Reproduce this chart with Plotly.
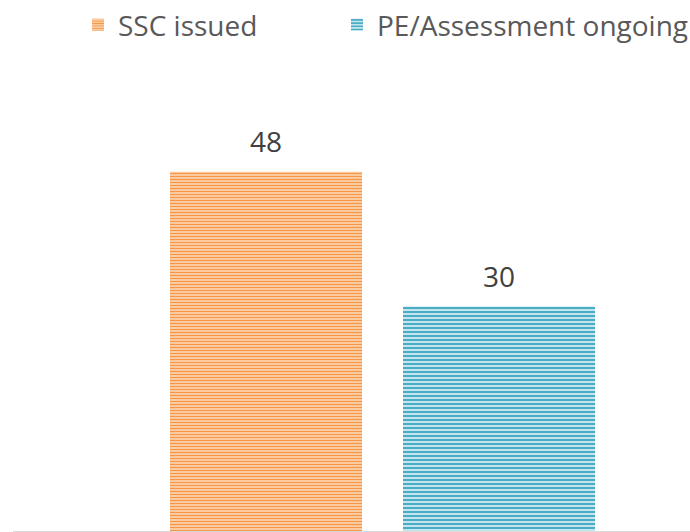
import plotly.graph_objects as go

series_names = ["SSC issued", "PE/Assessment ongoing"]
values = [48, 30]
fg_colors = ["#f79646", "#4bacc6"]
bg_colors = ["#fddcbd", "#c5e5ee"]
stripe_sizes = [3, 4]
legend_ids = ["legend", "legend2"]

fig = go.Figure()
for name, v, fg, bg, sz, lg in zip(series_names, values, fg_colors, bg_colors, stripe_sizes, legend_ids):
    fig.add_trace(go.Bar(
        name=name, x=[name], y=[v], legend=lg,
        marker=dict(color=bg, line=dict(width=0),
                    pattern=dict(shape="-", fgcolor=fg, bgcolor=bg, size=sz, solidity=0.5, fillmode="replace")),
        cliponaxis=False,
    ))
    fig.add_annotation(x=name, y=v, text=str(v), showarrow=False, yanchor="bottom", yshift=10,
                       font=dict(family="Open Sans", size=28, color="#404040"))

legend_common = dict(orientation="h", xref="container", yref="container", xanchor="left",
                     y=0.953, yanchor="middle", font=dict(size=28, color="#595959"),
                     itemwidth=30, bgcolor="rgba(0,0,0,0)")

fig.update_layout(
    width=690, height=532,
    margin=dict(l=13, r=0, t=82, b=1, autoexpand=False),
    paper_bgcolor="white", plot_bgcolor="white",
    barmode="overlay", bargap=0.176,
    font=dict(family="Open Sans", color="#595959", size=28),
    showlegend=True,
    legend=dict(x=78 / 690, **legend_common),
    legend2=dict(x=337 / 690, **legend_common),
    xaxis=dict(range=[-1.0858, 1.8197], showline=True, linecolor="#d9d9d9", linewidth=1,
               showticklabels=False, ticks="", showgrid=False, zeroline=False),
    yaxis=dict(range=[0, 60], visible=False, showgrid=False, zeroline=False),
)

fig.write_html("out.html", config={"displayModeBar": False},
               post_script="document.body.style.margin='0';")
